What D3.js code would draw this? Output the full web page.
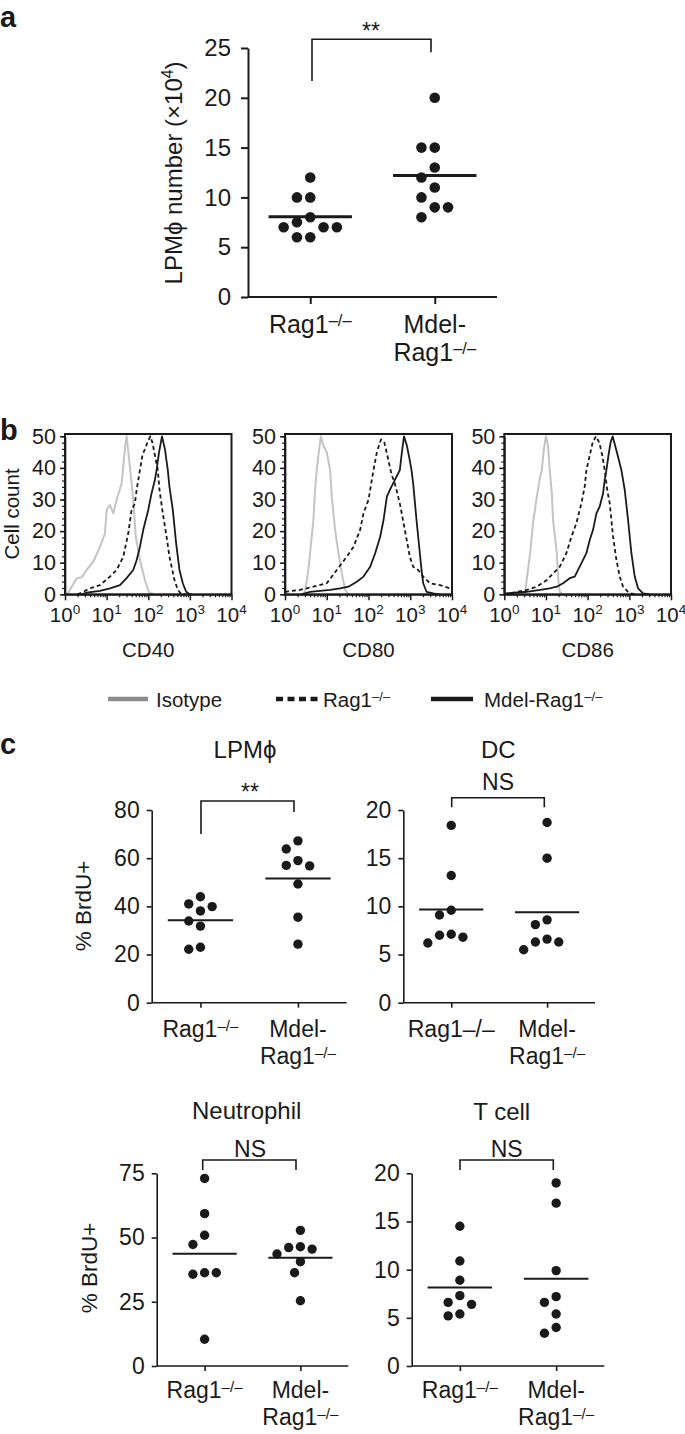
<!DOCTYPE html>
<html><head><meta charset="utf-8">
<script src="https://cdn.jsdelivr.net/npm/d3@7"></script>
<style>
body{margin:0;background:#fff}
svg{display:block}
text{font-family:"Liberation Sans",Arial,Helvetica,sans-serif}
</style>
</head><body>
<svg id="fig" width="685" height="1434"></svg>
<script>
// ================= DATA =================
// Panel a : LPMϕ number (x10^4)
const aGroups = ["Rag1", "Mdel-Rag1"];
const aRag = [12, 10, 10, 8, 7.5, 7, 7, 7, 6, 6];
const aMdel = [20, 15, 15, 13, 12, 11, 10, 9, 9, 8];
const aTicks = [0, 5, 10, 15, 20, 25];
const aCatLabels = [["Rag1^–/–"], ["Mdel-", "Rag1^–/–"]];

// Panel b : flow histograms (log10 fluorescence, cell count)
const flowMarkers = ["CD40", "CD80", "CD86"];
const flowYTicks = [0, 10, 20, 30, 40, 50];
const flowDecades = [0, 1, 2, 3, 4];
const legendLabels = ["Isotype", "Rag1^–/–", "Mdel-Rag1^–/–"];

const cd40IsoX = [0.02,0.08,0.16,0.28,0.40,0.52,0.68,0.84,0.96,1.00,1.08,1.16,1.24,1.36,1.44,1.48,1.53,1.60,1.64,1.70,1.80,1.92,2.02,2.15];
const cd40IsoY = [0,0.5,2.4,5,5.4,7.7,10.3,15,19.3,26.7,28.2,25.6,29.9,35.1,46,50,44,35.1,29.9,18.2,10.9,4.5,0.5,0];
const cd40RagX = [0.3,0.44,0.6,0.84,1.08,1.24,1.4,1.52,1.6,1.68,1.72,1.8,1.86,1.92,1.98,2.05,2.1,2.16,2.23,2.27,2.35,2.44,2.51,2.63,2.71,2.79,2.9];
const cd40RagY = [0,0.8,1.9,2.9,5.6,7.7,11.9,19.3,26.7,28.8,33,39.3,44,46,48,50,48,44,39.3,33,25.6,18.2,11.9,4.5,1.4,0.1,0];
const cd40MdelX = [0.4,0.52,0.84,1.08,1.32,1.48,1.64,1.72,1.8,1.88,2.0,2.08,2.16,2.2,2.26,2.33,2.4,2.47,2.51,2.59,2.67,2.75,2.83,2.91,2.99,3.05];
const cd40MdelY = [0,0.5,1.1,1.9,2.9,5.1,7.7,10.8,15,20.4,26.7,32,36.2,39.3,45,50,46,39.3,34,26.7,16.1,7.7,3.5,0.8,0.1,0];

const cd80IsoX = [0.4,0.48,0.56,0.6,0.68,0.72,0.76,0.8,0.86,0.92,1.0,1.08,1.12,1.2,1.28,1.36,1.44,1.52];
const cd80IsoY = [0,0.8,7.7,13,23.5,33,39.3,44,50,47,45,39.3,30.9,20.4,13,6.7,1.4,0];
const cd80RagX = [0,0.36,0.68,1.0,1.24,1.48,1.64,1.8,1.88,2.0,2.08,2.12,2.2,2.3,2.38,2.45,2.55,2.63,2.75,2.87,2.99,3.07,3.19,3.31,3.47,3.71,3.95,4.0];
const cd80RagY = [0.8,1.4,2.4,3.5,7.7,11.9,15,20.4,25.6,29.9,36.2,39.3,45,49,48,44,38,35.1,28.8,20.4,11.9,8.7,7.7,5.6,3.5,2.9,1.9,1.5];
const cd80MdelX = [0.4,0.6,1.08,1.32,1.52,1.72,1.88,2.04,2.16,2.28,2.36,2.44,2.51,2.59,2.67,2.75,2.8,2.85,2.92,2.98,3.03,3.07,3.15,3.23,3.27,3.31,3.39,3.55,3.7];
const cd80MdelY = [0,0.8,1.4,1.9,2.4,4,5.6,8.7,13,18.2,23.5,30.9,33,35.1,37.2,39.3,45,50,47,43,39.3,35.1,23.5,13,7.7,3.5,0.8,0.3,0];

const cd86IsoX = [0.4,0.5,0.62,0.69,0.78,0.86,0.9,0.95,1.0,1.05,1.09,1.14,1.17,1.26,1.29,1.33,1.4];
const cd86IsoY = [0,0.8,13,22.5,30.9,37.2,39.3,46,50,47,39.3,32,23.5,13,5.6,0.8,0];
const cd86RagX = [0,0.14,0.54,0.78,1.02,1.17,1.33,1.49,1.61,1.73,1.85,1.93,1.97,2.05,2.12,2.2,2.28,2.35,2.41,2.47,2.53,2.61,2.69,2.77,2.85,2.97,3.09,3.2];
const cd86RagY = [0.2,0.3,1.4,2.4,4.5,6.6,8.7,13,18.2,22.5,28.8,34.1,39.3,44,48,50,48,44,39.3,33,28.8,18.2,10.9,5.6,2.4,0.8,0.1,0];
const cd86MdelX = [0.06,0.54,0.86,1.09,1.26,1.41,1.57,1.69,1.77,1.89,1.97,2.05,2.13,2.21,2.29,2.37,2.41,2.45,2.5,2.55,2.6,2.66,2.72,2.81,2.89,2.97,3.05,3.13,3.21,3.33,3.5];
const cd86MdelY = [0.3,0.8,1.4,1.9,2.4,3.5,5.1,5.6,7.7,10.9,13,17.2,20.4,25.6,27.8,32,36.2,39.3,44,48,50,47,44,39.3,33,23.5,13,5.6,1.9,0.3,0];

// Panel c : % BrdU+
const cGroups = ["Rag1", "Mdel-Rag1"];
const lpmRag = [44, 41, 39.9, 38.1, 33.9, 31.8, 23, 22.2];
const lpmMdel = [67.2, 63.8, 59, 57, 56.8, 49.3, 35.5, 24.3];
const lpmTicks = [0, 20, 40, 60, 80];
const dcRag = [18.4, 13.2, 9.6, 9.1, 7.1, 7.0, 6.8, 6.2];
const dcMdel = [18.7, 15.0, 8.6, 8.1, 6.6, 6.3, 6.3, 5.5];
const dcTicks = [0, 5, 10, 15, 20];
const neuRag = [73, 59.3, 50.9, 47.3, 36.3, 35.7, 36.3, 10.4];
const neuMdel = [52.8, 46.4, 46.1, 45.5, 43.6, 40.6, 36.3, 25.4];
const neuTicks = [0, 25, 50, 75];
const tRag = [14.5, 10.9, 8.9, 7.3, 6.6, 6.4, 5.4, 5.2];
const tMdel = [19.0, 16.9, 9.9, 7.2, 6.6, 5.4, 4.0, 3.4];
const tTicks = [0, 5, 10, 15, 20];
const cCatLabels = [["Rag1^–/–"], ["Mdel-", "Rag1^–/–"]];
const dcCatLabels = [["Rag1–/–"], ["Mdel-", "Rag1^–/–"]];

// ================= DRAWING =================
const INK = "#1a1a1a";
const svg = d3.select("#fig");

function richText(sel, x, y, str, size, anchor, supScale, supRaise) {
  const t = sel.append("text").attr("x", x).attr("y", y)
    .attr("font-size", size).attr("text-anchor", anchor || "middle").attr("fill", INK);
  const parts = str.split("^");
  t.append("tspan").text(parts[0]);
  if (parts.length > 1) {
    t.append("tspan").attr("font-size", size * (supScale || 0.65))
      .attr("dy", -(supRaise !== undefined ? supRaise : size * 0.3)).text(parts[1]);
  }
  return t;
}

function styleAxis(g, w) {
  g.selectAll("path.domain").attr("stroke", INK).attr("stroke-width", w);
  g.selectAll(".tick line").attr("stroke", INK).attr("stroke-width", w);
  g.selectAll(".tick text").attr("fill", INK).style("font-family", "'Liberation Sans',Arial,sans-serif");
}

function dodge(values, y, cx, s) {
  const placed = [];
  const cands = [0];
  for (let i = 1; i < 12; i++) cands.push(-i * s / 2, i * s / 2);
  return values.map(v => {
    const py = y(v);
    let off = 0;
    for (const c of cands) {
      if (placed.every(p => Math.hypot(p.x - (cx + c), p.y - py) >= s - 0.01)) { off = c; break; }
    }
    const pt = { x: cx + off, y: py };
    placed.push(pt);
    return pt;
  });
}

function dotPlot(cfg) {
  const g = svg.append("g");
  const x = d3.scalePoint().domain(cfg.groups).range([cfg.left, cfg.left + cfg.w]).padding(0.5);
  const y = d3.scaleLinear().domain([0, cfg.yMax]).range([cfg.bottom, cfg.bottom - cfg.h]);
  const ya = d3.axisLeft(y).tickValues(cfg.ticks).tickSize(cfg.tick).tickSizeOuter(0)
    .tickPadding(cfg.pad).tickFormat(d3.format("d"));
  const yg = g.append("g").attr("transform", `translate(${cfg.left},0)`).call(ya);
  yg.selectAll(".tick text").attr("font-size", cfg.tickFont);
  styleAxis(yg, cfg.axisW);
  const xa = d3.axisBottom(x).tickSize(cfg.tick).tickSizeOuter(0).tickFormat("");
  const xg = g.append("g").attr("transform", `translate(0,${cfg.bottom})`).call(xa);
  xg.select("path.domain").attr("d", `M${cfg.left},0H${cfg.left + cfg.w}`);
  styleAxis(xg, cfg.axisW);
  // category labels
  cfg.catLabels.forEach((lines, i) => {
    lines.forEach((ln, j) => {
      richText(g, x(cfg.groups[i]), cfg.catY + j * cfg.lineH, ln, cfg.catFont, "middle", 0.66, cfg.catFont * 0.28);
    });
  });
  // dots & means
  const step = x.step();
  cfg.series.forEach((vals, i) => {
    const cx = x(cfg.groups[i]);
    const pts = dodge(vals, y, cx, cfg.spacing);
    g.append("g").selectAll("circle").data(pts).join("circle")
      .attr("cx", d => d.x).attr("cy", d => d.y).attr("r", cfg.r).attr("fill", INK);
    const m = d3.mean(vals);
    g.append("line").attr("x1", cx - step * 0.335).attr("x2", cx + step * 0.335)
      .attr("y1", y(m)).attr("y2", y(m)).attr("stroke", INK).attr("stroke-width", cfg.meanW);
  });
  // significance bracket
  const b = cfg.bracket;
  g.append("path").attr("d", `M${b.xl},${b.legL}V${b.top}H${b.xr}V${b.legR}`)
    .attr("fill", "none").attr("stroke", INK).attr("stroke-width", 1.6);
  g.append("text").attr("x", b.tx).attr("y", b.ty).attr("text-anchor", "middle")
    .attr("font-size", cfg.sigFont).attr("fill", INK).text(b.label);
  if (cfg.title) {
    g.append("text").attr("x", cfg.title.x).attr("y", cfg.title.y).attr("text-anchor", "middle")
      .attr("font-size", cfg.titleFont).attr("fill", INK).text(cfg.title.text);
  }
  if (cfg.ylab) {
    const fs = cfg.ylab.size;
    g.append("text").attr("transform", `translate(${cfg.ylab.x},${cfg.ylab.y}) rotate(-90)`)
      .attr("text-anchor", "middle").attr("font-size", fs).attr("fill", INK)
      .call(t => {
        const parts = cfg.ylab.text.split("^");
        t.append("tspan").text(parts[0]);
        if (parts.length > 1) {
          const sp = parts[1].split("|");
          t.append("tspan").attr("font-size", fs * 0.65).attr("dy", -fs * 0.38).text(sp[0]);
          t.append("tspan").attr("dy", fs * 0.38).text(sp[1]);
        }
      });
  }
}

// ---------- Panel a ----------
svg.append("text").attr("x", 0).attr("y", 27).attr("font-size", 29).attr("font-weight", "bold").attr("fill", INK).text("a");
dotPlot({
  groups: aGroups, series: [aRag, aMdel], left: 248, bottom: 297, w: 249, h: 249, yMax: 25,
  ticks: aTicks, tick: 7, pad: 10, tickFont: 24, catFont: 25, sigFont: 23, axisW: 2,
  catLabels: aCatLabels, catY: 333, lineH: 28,
  r: 5.3, spacing: 13.3, meanW: 3,
  bracket: { xl: 312, xr: 431, top: 39.3, legL: 81, legR: 52.3, tx: 371, ty: 39, label: "**" },
  ylab: { x: 182, y: 173, size: 24, text: "LPMϕ number (×10^4|)" }
});

// ---------- Panel b ----------
svg.append("text").attr("x", 0).attr("y", 440).attr("font-size", 29).attr("font-weight", "bold").attr("fill", INK).text("b");
const flowFrames = [{ left: 65, right: 231.5 }, { left: 285, right: 452 }, { left: 504.3, right: 671 }];
const flowCurves = [
  [[cd40IsoX, cd40IsoY], [cd40RagX, cd40RagY], [cd40MdelX, cd40MdelY]],
  [[cd80IsoX, cd80IsoY], [cd80RagX, cd80RagY], [cd80MdelX, cd80MdelY]],
  [[cd86IsoX, cd86IsoY], [cd86RagX, cd86RagY], [cd86MdelX, cd86MdelY]]
];
const FB = 594.3, FT = 434;
flowFrames.forEach((f, i) => {
  const g = svg.append("g");
  const x = d3.scaleLinear().domain([0, 4]).range([f.left, f.right]);
  const y = d3.scaleLinear().domain([0, 50]).range([FB, 436.3]);
  const minor = [];
  flowDecades.slice(0, -1).forEach(d => { for (let k = 2; k < 10; k++) minor.push(d + Math.log10(k)); });
  const gm = g.append("g").attr("transform", `translate(0,${FB})`)
    .call(d3.axisBottom(x).tickValues(minor).tickSize(3).tickSizeOuter(0).tickFormat(""));
  styleAxis(gm, 1.2);
  const gM = g.append("g").attr("transform", `translate(0,${FB})`)
    .call(d3.axisBottom(x).tickValues(flowDecades).tickSize(6).tickSizeOuter(0).tickFormat(""));
  styleAxis(gM, 1.5);
  flowDecades.forEach(d => richText(g, x(d), 622, "10^" + d, 20.5, "middle", 0.66, 8));
  const ym = g.append("g").attr("transform", `translate(${f.left},0)`)
    .call(d3.axisLeft(y).tickValues(d3.range(0, 51, 2)).tickSize(3).tickSizeOuter(0).tickFormat(""));
  styleAxis(ym, 1.2);
  const yM = g.append("g").attr("transform", `translate(${f.left},0)`)
    .call(d3.axisLeft(y).tickValues(flowYTicks).tickSize(5).tickSizeOuter(0).tickPadding(4).tickFormat(d3.format("d")));
  yM.selectAll(".tick text").attr("font-size", 21.5);
  styleAxis(yM, 1.5);
  const line = d3.line().x(d => x(d[0])).y(d => y(d[1]));
  const styles = [
    { stroke: "#c4c4c4", w: 2, dash: null },
    { stroke: INK, w: 1.8, dash: "4,3" },
    { stroke: INK, w: 1.8, dash: null }
  ];
  flowCurves[i].forEach((c, k) => {
    const pts = c[0].map((v, j) => [v, c[1][j]]);
    g.append("path").attr("d", line(pts)).attr("fill", "none")
      .attr("stroke", styles[k].stroke).attr("stroke-width", styles[k].w)
      .attr("stroke-dasharray", styles[k].dash).attr("stroke-linejoin", "round");
  });
  g.append("rect").attr("x", f.left).attr("y", FT).attr("width", f.right - f.left).attr("height", FB - FT)
    .attr("fill", "none").attr("stroke", INK).attr("stroke-width", 2);
  g.append("text").attr("x", (f.left + f.right) / 2).attr("y", 657).attr("text-anchor", "middle")
    .attr("font-size", 20.5).attr("fill", INK).text(flowMarkers[i]);
});
svg.append("text").attr("transform", "translate(19,514) rotate(-90)").attr("text-anchor", "middle")
  .attr("font-size", 20.5).attr("fill", INK).text("Cell count");
// legend
const legItems = [
  { x1: 108, x2: 148, tx: 156, stroke: "#8c8c8c", w: 4.5, dash: null },
  { x1: 276, x2: 321, tx: 323, stroke: INK, w: 4.5, dash: "7,4.5" },
  { x1: 431, x2: 473, tx: 484, stroke: INK, w: 4.5, dash: null }
];
legendLabels.forEach((lab, i) => {
  const it = legItems[i];
  svg.append("line").attr("x1", it.x1).attr("x2", it.x2).attr("y1", 699).attr("y2", 699)
    .attr("stroke", it.stroke).attr("stroke-width", it.w).attr("stroke-dasharray", it.dash);
  richText(svg, it.tx, 707, lab, 20.5, "start", 0.64, 6);
});

// ---------- Panel c ----------
svg.append("text").attr("x", 0).attr("y", 754).attr("font-size", 29).attr("font-weight", "bold").attr("fill", INK).text("c");
const cCommon = { tick: 5, pad: 7, tickFont: 23, catFont: 23, titleFont: 24, sigFont: 23, axisW: 1.6,
  lineH: 27, r: 4.7, spacing: 11.7, meanW: 2 };
dotPlot(Object.assign({}, cCommon, {
  groups: cGroups, series: [lpmRag, lpmMdel], left: 151.7, bottom: 1002.7, w: 195, h: 192.7, yMax: 80,
  ticks: lpmTicks, catLabels: cCatLabels, catY: 1037,
  bracket: { xl: 201, xr: 294, top: 801, legL: 834, legR: 812, tx: 250, ty: 800, label: "**" },
  title: { x: 245, y: 758, text: "LPMϕ" },
  ylab: { x: 91, y: 906, size: 22.5, text: "% BrdU+" }
}));
dotPlot(Object.assign({}, cCommon, {
  groups: cGroups, series: [dcRag, dcMdel], left: 403.3, bottom: 1002.7, w: 191.7, h: 192.7, yMax: 20,
  ticks: dcTicks, catLabels: dcCatLabels, catY: 1037,
  bracket: { xl: 451.7, xr: 544.3, top: 797.7, legL: 807.3, legR: 807.3, tx: 498, ty: 790, label: "NS" },
  title: { x: 498.3, y: 758, text: "DC" }
}));
dotPlot(Object.assign({}, cCommon, {
  groups: cGroups, series: [neuRag, neuMdel], left: 156.7, bottom: 1366, w: 191.6, h: 192.7, yMax: 75,
  ticks: neuTicks, catLabels: cCatLabels, catY: 1398,
  bracket: { xl: 202.7, xr: 296, top: 1160, legL: 1170, legR: 1170, tx: 250, ty: 1157, label: "NS" },
  title: { x: 246.7, y: 1119, text: "Neutrophil" },
  ylab: { x: 97, y: 1268, size: 22.5, text: "% BrdU+" }
}));
dotPlot(Object.assign({}, cCommon, {
  groups: cGroups, series: [tRag, tMdel], left: 411.7, bottom: 1366, w: 192.6, h: 192.7, yMax: 20,
  ticks: tTicks, catLabels: cCatLabels, catY: 1398,
  bracket: { xl: 460, xr: 553.3, top: 1160, legL: 1170, legR: 1170, tx: 506.7, ty: 1157, label: "NS" },
  title: { x: 501.7, y: 1120, text: "T cell" }
}));
</script>
</body></html>
